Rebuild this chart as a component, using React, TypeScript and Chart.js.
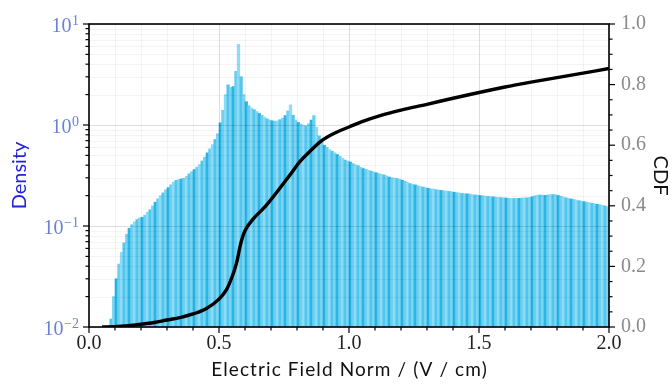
import React, { useEffect, useRef } from "react";
import { Chart, registerables } from "chart.js";

Chart.register(...registerables);

// ---------- data ----------
const BIN_WIDTH = 0.01;

// histogram density per 0.01-wide bin, 0.00 .. 2.00 (null = below the plotted range)
const density: (number | null)[] = [
  null, null, null, null, null, null, null, null, 0.012, 0.02,
  0.03, 0.042, 0.055, 0.068, 0.083, 0.095, 0.103, 0.11, 0.116, 0.12,
  0.122, 0.128, 0.137, 0.145, 0.158, 0.172, 0.186, 0.2, 0.213, 0.228,
  0.24, 0.256, 0.272, 0.283, 0.288, 0.292, 0.297, 0.31, 0.328, 0.345,
  0.362, 0.382, 0.405, 0.44, 0.48, 0.53, 0.58, 0.64, 0.72, 0.82,
  1.05, 1.4, 2.0, 2.5, 2.35, 2.4, 3.4, 6.3, 3.0, 2.0,
  1.7, 1.55, 1.47, 1.42, 1.36, 1.3, 1.25, 1.2, 1.15, 1.12,
  1.1, 1.09, 1.1, 1.13, 1.17, 1.24, 1.38, 1.58, 1.25, 1.12,
  1.06, 1.02, 0.99, 0.98, 1.03, 1.12, 1.24, 0.95, 0.78, 0.68,
  0.63, 0.6, 0.57, 0.55, 0.53, 0.51, 0.49, 0.47, 0.45, 0.44,
  0.43, 0.415, 0.405, 0.395, 0.38, 0.37, 0.363, 0.356, 0.35, 0.342,
  0.336, 0.33, 0.325, 0.32, 0.313, 0.305, 0.3, 0.298, 0.295, 0.29,
  0.284, 0.278, 0.27, 0.263, 0.258, 0.255, 0.25, 0.247, 0.243, 0.24,
  0.236, 0.233, 0.232, 0.229, 0.227, 0.225, 0.223, 0.222, 0.22, 0.218,
  0.216, 0.214, 0.212, 0.21, 0.209, 0.208, 0.207, 0.205, 0.203, 0.202,
  0.2, 0.199, 0.198, 0.196, 0.195, 0.194, 0.193, 0.192, 0.191, 0.19,
  0.189, 0.188, 0.188, 0.187, 0.187, 0.188, 0.189, 0.19, 0.19, 0.192,
  0.195, 0.199, 0.202, 0.203, 0.202, 0.201, 0.203, 0.205, 0.205, 0.204,
  0.2, 0.197, 0.193, 0.19, 0.187, 0.185, 0.183, 0.181, 0.178, 0.176,
  0.174, 0.172, 0.17, 0.168, 0.166, 0.164, 0.162, 0.16, 0.158, 0.155,
];

// bin centres (categories of the histogram)
const binCenters = density.map((_, i) => Math.round((i + 0.5) * BIN_WIDTH * 1000) / 1000);

// cumulative distribution
const cdfX = [
  0.05, 0.1, 0.15, 0.2, 0.25, 0.3, 0.35, 0.4, 0.45, 0.5,
  0.53, 0.55, 0.56, 0.57, 0.58, 0.59, 0.6, 0.63, 0.68, 0.75,
  0.78, 0.81, 0.85, 0.89, 0.95, 1.0, 1.05, 1.12, 1.2, 1.3,
  1.4, 1.5, 1.6, 1.7, 1.8, 1.9, 2.0,
];
const cdfY = [
  0.0, 0.001, 0.004, 0.009, 0.015, 0.023, 0.031, 0.043, 0.06, 0.092,
  0.125, 0.165, 0.19, 0.22, 0.262, 0.295, 0.318, 0.355, 0.4, 0.476,
  0.51, 0.545, 0.58, 0.612, 0.642, 0.66, 0.678, 0.698, 0.716, 0.735,
  0.755, 0.774, 0.792, 0.808, 0.823, 0.838, 0.853,
];

// tick labels
const xTickValues = [0, 0.5, 1.0, 1.5, 2.0];
const xTickLabels = ["0.0", "0.5", "1.0", "1.5", "2.0"];
const densityTickValues = [0.01, 0.1, 1, 10];
const densityTickExponents = ["\u22122", "\u22121", "0", "1"];
const cdfTickLabels = ["0.0", "0.2", "0.4", "0.6", "0.8", "1.0"];
const xTitle = "Electric Field Norm / (V / cm)";

// ---------- styling ----------
const SERIF = "'Liberation Serif', 'DejaVu Serif', serif";
const SANS = "Lato, 'DejaVu Sans', sans-serif";
const LEFT_TICK_COLOR = "#6b80d8";
const DENSITY_TITLE_COLOR = "#2020dd";
const RIGHT_TICK_COLOR = "#8a8a8a";
const BAR_COLORS = ["#2cb4e3", "#6ccff1", "#8fdbf5", "#52c6ee", "#7ad4f2"];

const gridAndFramePlugin = {
  id: "gridAndFrame",
  afterDatasetDraw(chart: any, args: any) {
    if (args.index !== 0) return;
    const { ctx, chartArea: a, scales } = chart;
    const xs = scales.x;
    const ys = scales.y;
    ctx.save();
    for (let i = 0; i <= 20; i++) {
      const px = Math.round(xs.getPixelForValue(i / 10)) + 0.5;
      const major = i % 5 === 0;
      ctx.strokeStyle = major ? "rgba(0,0,0,0.13)" : "rgba(0,0,0,0.055)";
      ctx.lineWidth = major ? 1 : 0.8;
      ctx.beginPath();
      ctx.moveTo(px, a.top);
      ctx.lineTo(px, a.bottom);
      ctx.stroke();
    }
    for (let k = 0; k < densityTickValues.length; k++) {
      const base = densityTickValues[k];
      for (let m = 1; m <= 9; m++) {
        if (k === densityTickValues.length - 1 && m > 1) break;
        const py = Math.round(ys.getPixelForValue(base * m)) + 0.5;
        const major = m === 1;
        ctx.strokeStyle = major ? "rgba(0,0,0,0.13)" : "rgba(0,0,0,0.055)";
        ctx.lineWidth = major ? 1 : 0.8;
        ctx.beginPath();
        ctx.moveTo(a.left, py);
        ctx.lineTo(a.right, py);
        ctx.stroke();
      }
    }
    ctx.restore();
  },
  afterDraw(chart: any) {
    const { ctx, chartArea: a, scales } = chart;
    const xs = scales.x;
    const ys = scales.y;
    const y1 = scales.y1;
    ctx.save();
    ctx.strokeStyle = "#000";
    ctx.lineWidth = 1.6;
    ctx.strokeRect(a.left, a.top, a.right - a.left, a.bottom - a.top);

    ctx.lineWidth = 1.2;
    const tick = (x0: number, y0: number, x1: number, y1p: number) => {
      ctx.beginPath();
      ctx.moveTo(x0, y0);
      ctx.lineTo(x1, y1p);
      ctx.stroke();
    };
    for (let i = 0; i <= 20; i++) {
      const px = xs.getPixelForValue(i / 10);
      const len = i % 5 === 0 ? 6 : 3.5;
      tick(px, a.bottom, px, a.bottom + len);
    }
    for (let k = 0; k < densityTickValues.length; k++) {
      const base = densityTickValues[k];
      for (let m = 1; m <= 9; m++) {
        if (k === densityTickValues.length - 1 && m > 1) break;
        const py = ys.getPixelForValue(base * m);
        const len = m === 1 ? 6 : 3.5;
        tick(a.left, py, a.left - len, py);
      }
    }
    for (let i = 0; i <= 20; i++) {
      const py = y1.getPixelForValue(i / 20);
      const len = i % 4 === 0 ? 6 : 3.5;
      tick(a.right, py, a.right + len, py);
    }

    // left tick labels 10^k
    ctx.fillStyle = LEFT_TICK_COLOR;
    ctx.textBaseline = "alphabetic";
    densityTickValues.forEach((v, i) => {
      const py = ys.getPixelForValue(v);
      const exp = densityTickExponents[i];
      ctx.font = `14px ${SERIF}`;
      const ew = ctx.measureText(exp).width;
      const right = a.left - 10;
      ctx.textAlign = "left";
      ctx.fillText(exp, right - ew, py + 1);
      ctx.font = `20px ${SERIF}`;
      ctx.textAlign = "right";
      ctx.fillText("10", right - ew - 0.5, py + 8);
    });

    // x axis title
    ctx.fillStyle = "#111";
    ctx.font = `19px ${SANS}`;
    (ctx as any).letterSpacing = "1.1px";
    ctx.textAlign = "center";
    ctx.textBaseline = "middle";
    ctx.fillText(xTitle, (a.left + a.right) / 2 + 0.5, 370);
    (ctx as any).letterSpacing = "0px";
    ctx.restore();
  },
};

export default function App() {
  const canvasRef = useRef<HTMLCanvasElement | null>(null);

  useEffect(() => {
    if (!canvasRef.current) return;
    const chart = new Chart(canvasRef.current, {
      type: "bar",
      data: {
        datasets: [
          {
            type: "bar",
            label: "Density",
            data: binCenters.map((x, i) => ({ x, y: density[i] })) as any,
            xAxisID: "x",
            yAxisID: "y",
            base: 0.01,
            barPercentage: 1,
            categoryPercentage: 1,
            backgroundColor: (c: any) => BAR_COLORS[c.dataIndex % BAR_COLORS.length],
            borderWidth: 0,
            order: 1,
          },
          {
            type: "line",
            label: "CDF",
            data: cdfX.map((x, i) => ({ x, y: cdfY[i] })) as any,
            xAxisID: "x",
            yAxisID: "y1",
            borderColor: "#000",
            borderWidth: 3.4,
            pointRadius: 0,
            fill: false,
            cubicInterpolationMode: "monotone",
            order: 0,
          },
        ],
      } as any,
      options: {
        animation: false,
        responsive: false,
        layout: { padding: { top: 17, left: 0, right: 0, bottom: 0 } },
        plugins: { legend: { display: false }, tooltip: { enabled: false } },
        scales: {
          x: {
            type: "linear",
            min: 0,
            max: 2,
            offset: false,
            grid: { display: false, drawTicks: false, offset: false },
            border: { display: false },
            ticks: {
              stepSize: 0.5,
              autoSkip: false,
              maxRotation: 0,
              padding: 5,
              color: "#222",
              font: { family: SERIF, size: 20 },
              callback: (v: any) => {
                const idx = xTickValues.findIndex((t) => Math.abs(t - Number(v)) < 1e-6);
                return idx >= 0 ? xTickLabels[idx] : "";
              },
            },
            title: { display: false },
            afterFit: (s: any) => {
              s.height = 57;
            },
          },
          y: {
            type: "logarithmic",
            position: "left",
            min: 0.01,
            max: 10,
            grid: { display: false, drawTicks: false },
            border: { display: false },
            ticks: { display: false },
            title: {
              display: true,
              text: "Density",
              color: DENSITY_TITLE_COLOR,
              font: { family: SANS, size: 20 },
              padding: { top: 8, bottom: 0 },
            },
            afterFit: (s: any) => {
              s.width = 89;
            },
          },
          y1: {
            type: "linear",
            position: "right",
            min: 0,
            max: 1,
            grid: { display: false, drawTicks: false },
            border: { display: false },
            ticks: {
              stepSize: 0.2,
              padding: 12,
              color: RIGHT_TICK_COLOR,
              font: { family: SERIF, size: 20 },
              callback: (_v: any, i: number) => cdfTickLabels[i] ?? "",
            },
            title: {
              display: true,
              text: "CDF",
              color: "#111",
              font: { family: SANS, size: 20 },
              padding: { top: 0, bottom: 0 },
            },
            afterFit: (s: any) => {
              s.width = 63;
            },
          },
        },
      } as any,
      plugins: [gridAndFramePlugin as any],
    });
    return () => chart.destroy();
  }, []);

  return (
    <div style={{ position: "absolute", left: 0, top: 0, width: 672, height: 384, background: "#fff" }}>
      <canvas ref={canvasRef} width={672} height={384} style={{ width: 672, height: 384 }} />
    </div>
  );
}
